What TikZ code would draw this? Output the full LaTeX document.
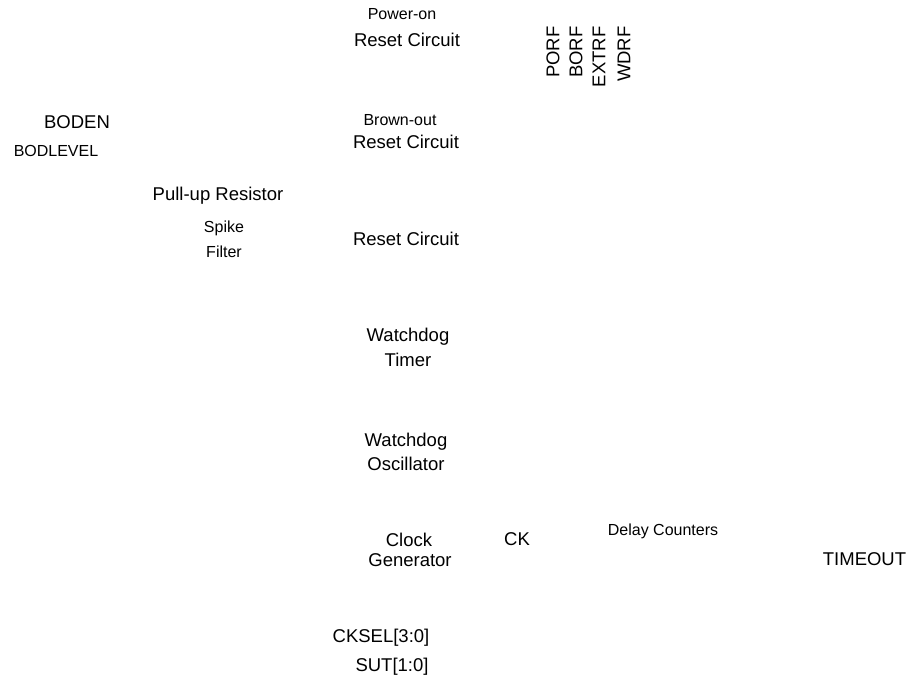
\documentclass[tikz,border=0pt]{standalone}
\usepackage{fontspec}
\setmainfont{Liberation Sans}
\usepackage{tikz}
\usetikzlibrary{positioning}

\begin{document}
\begin{tikzpicture}[x=0.5pt, y=-0.5pt,
		lbl/.style={anchor=base, inner sep=0pt, font=\fontsize{9.25}{11}\selectfont},
		sml/.style={anchor=base, inner sep=0pt, font=\fontsize{8}{10}\selectfont},
		flag/.style={lbl, anchor=east, rotate=90}]
		\useasboundingbox (0,0) rectangle (914,679);
		% reset sources
		\node[sml] (por-a) at (402,19.5) {Power-on};
		\node[lbl] (por-b) at (407,46.5) {Reset Circuit};
		\node[sml] (bod-a) at (400,126) {Brown-out};
		\node[lbl] (bod-b) at (406,149) {Reset Circuit};
		\node[lbl] (ext) at (406,245) {Reset Circuit};
		\node[lbl] (wdt-a) at (408,341) {Watchdog};
		\node[lbl] (wdt-b) at (408,366) {Timer};
		% fuses and pin
		\node[lbl] (boden) at (77,128.5) {BODEN};
		\node[sml] (bodlvl) at (56,157) {BODLEVEL};
		\node[lbl] (pullup) at (218,200) {Pull-up Resistor};
		\node[sml] (spike-a) at (224,232.5) {Spike};
		\node[sml] (spike-b) at (224,257.5) {Filter};
		% clock path
		\node[lbl] (osc-a) at (406,446.5) {Watchdog};
		\node[lbl] (osc-b) at (406,470.5) {Oscillator};
		\node[lbl] (clk-a) at (409,546.5) {Clock};
		\node[lbl] (clk-b) at (410,566.5) {Generator};
		\node[lbl] (cksel) at (381,642.5) {CKSEL[3:0]};
		\node[lbl] (sut) at (392,671) {SUT[1:0]};
		\node[lbl] (ck) at (517,545.5) {CK};
		\node[sml] (delay) at (663,535.5) {Delay Counters};
		\node[lbl] (tout) at (864.5,565.5) {TIMEOUT};
		% status flags
		\foreach \flg/\fx in {PORF/553, BORF/576, EXTRF/599, WDRF/624}
			\node[flag] (f-\flg) at (\fx,26) {\flg};
	\end{tikzpicture}
\end{document}
